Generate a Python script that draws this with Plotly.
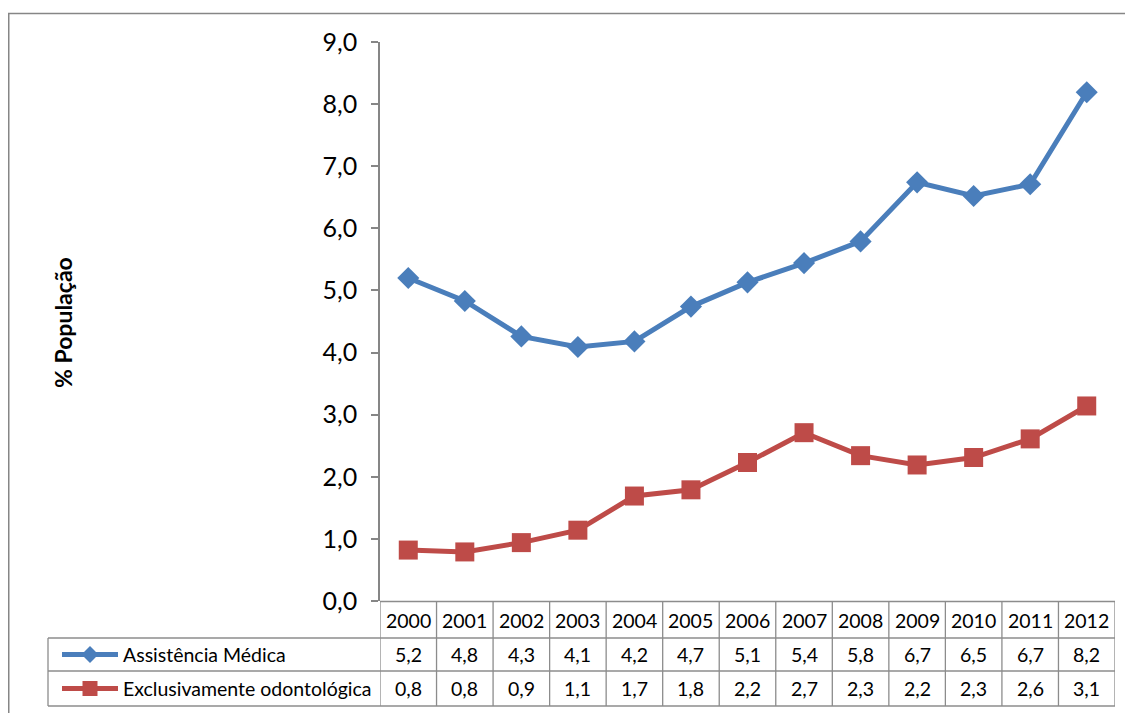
import plotly.graph_objects as go

years = ["2000", "2001", "2002", "2003", "2004", "2005", "2006",
         "2007", "2008", "2009", "2010", "2011", "2012"]
medica = [5.20, 4.83, 4.26, 4.09, 4.18, 4.74, 5.13, 5.44, 5.79, 6.74, 6.52, 6.71, 8.19]
odonto = [0.82, 0.79, 0.94, 1.14, 1.69, 1.79, 2.23, 2.71, 2.34, 2.19, 2.31, 2.61, 3.14]
series_names = ["Assistência Médica", "Exclusivamente odontológica"]
y_ticks = [0, 1, 2, 3, 4, 5, 6, 7, 8, 9]
y_title = "% População"

# the page places the figure 8px from the top-left corner of the window
OX, OY = 8, 8
W, H = 1133 - OX, 713 - OY
BLUE = "#4A7EBB"
RED = "#BE4B48"
GRID = "#8C8C8C"
FONT = "Lato, 'Open Sans', sans-serif"

def px(x):
    return x - OX

def pyy(y):
    return y - OY

def ypaper(y):
    return 1 - (y - OY) / H

def fmt(v):
    return f"{v:.1f}".replace(".", ",")

xs = list(range(len(years)))

fig = go.Figure()
fig.add_trace(go.Scatter(
    x=xs, y=medica, mode="lines+markers", name=series_names[0],
    line=dict(color=BLUE, width=5),
    marker=dict(symbol="diamond", size=17, color=BLUE),
    xaxis="x", yaxis="y", showlegend=False))
fig.add_trace(go.Scatter(
    x=xs, y=odonto, mode="lines+markers", name=series_names[1],
    line=dict(color=RED, width=5),
    marker=dict(symbol="square", size=19, color=RED),
    xaxis="x", yaxis="y", showlegend=False))

# legend keys in the data table (pixel-space helper axes)
row_y = [654.5, 688.5]
colors = [BLUE, RED]
symbols = ["diamond", "square"]
msizes = [13, 15]
for ry, c, s, ms in zip(row_y, colors, symbols, msizes):
    fig.add_trace(go.Scatter(x=[px(62), px(118)], y=[pyy(ry), pyy(ry)], mode="lines",
                             line=dict(color=c, width=5), xaxis="x2", yaxis="y2",
                             showlegend=False, hoverinfo="skip"))
    fig.add_trace(go.Scatter(x=[px(90)], y=[pyy(ry)], mode="markers",
                             marker=dict(symbol=s, size=ms, color=c), xaxis="x2", yaxis="y2",
                             showlegend=False, hoverinfo="skip"))

shapes = []
# outer chart border (cut at right and bottom like the reference)
shapes.append(dict(type="rect", xref="x2", yref="y2", x0=0.75, x1=W + 20,
                   y0=pyy(13.5), y1=H + 20, line=dict(color="#868686", width=1.5)))
# table lines
for yy in [638, 671, 706]:
    shapes.append(dict(type="line", xref="x2", yref="y2", x0=px(48), x1=px(380),
                       y0=pyy(yy), y1=pyy(yy), line=dict(color=GRID, width=1.3)))
    shapes.append(dict(type="line", xref="x", yref="y2", x0=-0.5, x1=len(years) - 0.5,
                       y0=pyy(yy), y1=pyy(yy), line=dict(color=GRID, width=1.3)))
shapes.append(dict(type="line", xref="x", yref="y2", x0=-0.5, x1=len(years) - 0.5,
                   y0=pyy(601.5), y1=pyy(601.5), line=dict(color=GRID, width=1.3)))
shapes.append(dict(type="line", xref="x2", yref="y2", x0=px(48), x1=px(48),
                   y0=pyy(638), y1=pyy(706), line=dict(color=GRID, width=1.3)))
for i in range(len(years) + 1):
    shapes.append(dict(type="line", xref="x", yref="y2", x0=i - 0.5, x1=i - 0.5,
                       y0=pyy(601), y1=pyy(706), line=dict(color=GRID, width=1.3)))

annotations = []
tfont = dict(family=FONT, size=19.5, color="#000")
for i, yr in enumerate(years):
    annotations.append(dict(x=i, y=pyy(620.5), xref="x", yref="y2", text=yr,
                            showarrow=False, font=tfont))
    annotations.append(dict(x=i, y=pyy(row_y[0]), xref="x", yref="y2", text=fmt(medica[i]),
                            showarrow=False, font=tfont))
    annotations.append(dict(x=i, y=pyy(row_y[1]), xref="x", yref="y2", text=fmt(odonto[i]),
                            showarrow=False, font=tfont))
for ry, nm in zip(row_y, series_names):
    annotations.append(dict(x=px(121), y=pyy(ry), xref="x2", yref="y2", text=nm,
                            showarrow=False, xanchor="left",
                            font=dict(family=FONT, size=19.5, color="#000")))
annotations.append(dict(x=px(63), y=pyy(323), xref="x2", yref="y2",
                        text="<b>" + y_title + "</b>",
                        showarrow=False, textangle=-90,
                        font=dict(family=FONT, size=23, color="#000")))

fig.update_layout(
    width=W, height=H,
    margin=dict(l=0, r=0, t=0, b=0, pad=0, autoexpand=False),
    paper_bgcolor="white", plot_bgcolor="rgba(0,0,0,0)",
    showlegend=False,
    xaxis=dict(domain=[px(380) / W, px(1115) / W], range=[-0.5, len(years) - 0.5],
               showticklabels=False, showgrid=False, zeroline=False, automargin=False,
               showline=False, ticks="", fixedrange=True, anchor="y"),
    yaxis=dict(domain=[ypaper(601), ypaper(42)], range=[0, 9], tickvals=y_ticks,
               ticktext=[fmt(v) for v in y_ticks], anchor="x", automargin=False,
               showgrid=False, zeroline=False, showline=True, linecolor="#868686",
               linewidth=1.5, ticks="outside", ticklen=7, tickcolor="#868686",
               tickwidth=1.5, ticklabelstandoff=9,
               tickfont=dict(family=FONT, size=25, color="#000"), fixedrange=True),
    xaxis2=dict(domain=[0, 1], range=[0, W], visible=False, anchor="y2",
                automargin=False, fixedrange=True),
    yaxis2=dict(domain=[0, 1], range=[H, 0], visible=False, anchor="x2",
                automargin=False, fixedrange=True),
    shapes=shapes, annotations=annotations,
)

fig.write_html("out.html")
